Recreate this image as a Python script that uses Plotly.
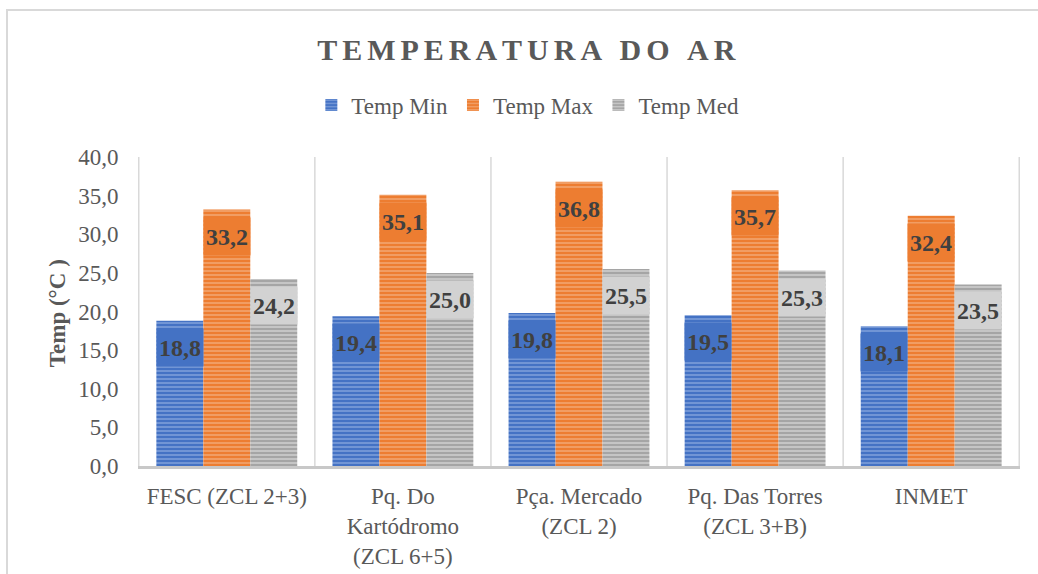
import plotly.graph_objects as go

# Stations / zones and their air temperatures (°C)
categories = [
    "FESC (ZCL 2+3)",
    "Pq. Do<br>Kartódromo<br>(ZCL 6+5)",
    "Pça. Mercado<br>(ZCL 2)",
    "Pq. Das Torres<br>(ZCL 3+B)",
    "INMET",
]
temp_min = [18.8, 19.4, 19.8, 19.5, 18.1]
temp_max = [33.2, 35.1, 36.8, 35.7, 32.4]
temp_med = [24.2, 25.0, 25.5, 25.3, 23.5]

series_names = ["Temp Min", "Temp Max", "Temp Med"]
series_values = [temp_min, temp_max, temp_med]
bar_colors = ["#4472c4", "#ed7d31", "#a5a5a5"]
stripe_colors = ["#a9c0ea", "#f7c3a0", "#ececec"]
label_bg = ["#4472c4", "#ed7d31", "#d2d2d2"]

FONT = "Liberation Serif, Times New Roman, serif"
TEXT = "#595959"

fig = go.Figure()
for name, vals, col, stripe in zip(series_names, series_values, bar_colors, stripe_colors):
    fig.add_trace(go.Bar(
        x=categories, y=vals, name=name,
        marker=dict(
            color=col,
            line=dict(width=0),
            pattern=dict(shape="-", size=4, solidity=0.45,
                         fgcolor=stripe, bgcolor=col, fillmode="overlay"),
        ),
        hoverinfo="x+y+name",
    ))

# value labels sitting just inside the top of each bar
n_series = len(series_values)
group_w = 0.8
bar_w = group_w / n_series
annotations = []
for s, (vals, bg) in enumerate(zip(series_values, label_bg)):
    offset = -group_w / 2 + bar_w * (s + 0.5)
    for i, v in enumerate(vals):
        annotations.append(dict(
            x=i + offset, y=v, xref="x", yref="y",
            text=f"{v:.1f}".replace(".", ","),
            showarrow=False, yanchor="top", yshift=-7,
            width=46, height=37, borderpad=0,
            bgcolor=bg,
            font=dict(family=FONT, size=24, color="#404040", weight="bold"),
        ))

# rotated y-axis title
annotations.append(dict(
    x=-0.092, y=0.494, xref="paper", yref="paper",
    text="<b>Temp (°C )</b>", textangle=-90, showarrow=False,
    xanchor="center", yanchor="middle",
    font=dict(family=FONT, size=23, color=TEXT),
))

# vertical separators between the station groups
shapes = []
for k in range(len(categories) + 1):
    shapes.append(dict(
        type="line", xref="x", yref="paper",
        x0=k - 0.5, x1=k - 0.5, y0=0, y1=1,
        line=dict(color="#d9d9d9", width=1.5), layer="below",
    ))
# chart-area border
shapes.append(dict(
    type="rect", xref="paper", yref="paper",
    x0=-0.1485, x1=1.2, y0=-0.6, y1=1.4757,
    line=dict(color="#d9d9d9", width=2), fillcolor="rgba(0,0,0,0)",
    layer="below",
))

# letter-spaced chart title
spaced = "\u2006 \u2006".join("\u2006".join(w) for w in "TEMPERATURA DO AR".split(" "))

fig.update_layout(
    width=1038, height=574,
    margin=dict(l=138, r=18, t=157, b=108),
    paper_bgcolor="white", plot_bgcolor="white",
    separators=",.",
    barmode="group", bargap=0.2, bargroupgap=0,
    title=dict(
        text=f"<b>{spaced}</b>",
        x=0.507, xref="container", xanchor="center",
        y=0.9146, yref="container", yanchor="middle",
        font=dict(family=FONT, size=30, color=TEXT),
    ),
    legend=dict(
        orientation="h", x=0.442, xanchor="center", y=1.168, yanchor="middle",
        font=dict(family=FONT, size=23, color=TEXT),
        itemwidth=30, bgcolor="rgba(0,0,0,0)",
    ),
    xaxis=dict(
        showline=True, linecolor="#c8c8c8", linewidth=2.5,
        showgrid=False, ticks="outside", ticklen=8, tickcolor="rgba(0,0,0,0)",
        tickfont=dict(family=FONT, size=23, color=TEXT),
        tickangle=0, automargin=False,
    ),
    yaxis=dict(
        range=[0, 40], dtick=5, tickformat=".1f",
        showgrid=False, zeroline=False, showline=False,
        ticks="outside", ticklen=14, tickcolor="rgba(0,0,0,0)",
        tickfont=dict(family=FONT, size=23, color=TEXT),
        automargin=False,
    ),
    annotations=annotations,
    shapes=shapes,
    showlegend=True,
)

fig.write_html("out.html")
